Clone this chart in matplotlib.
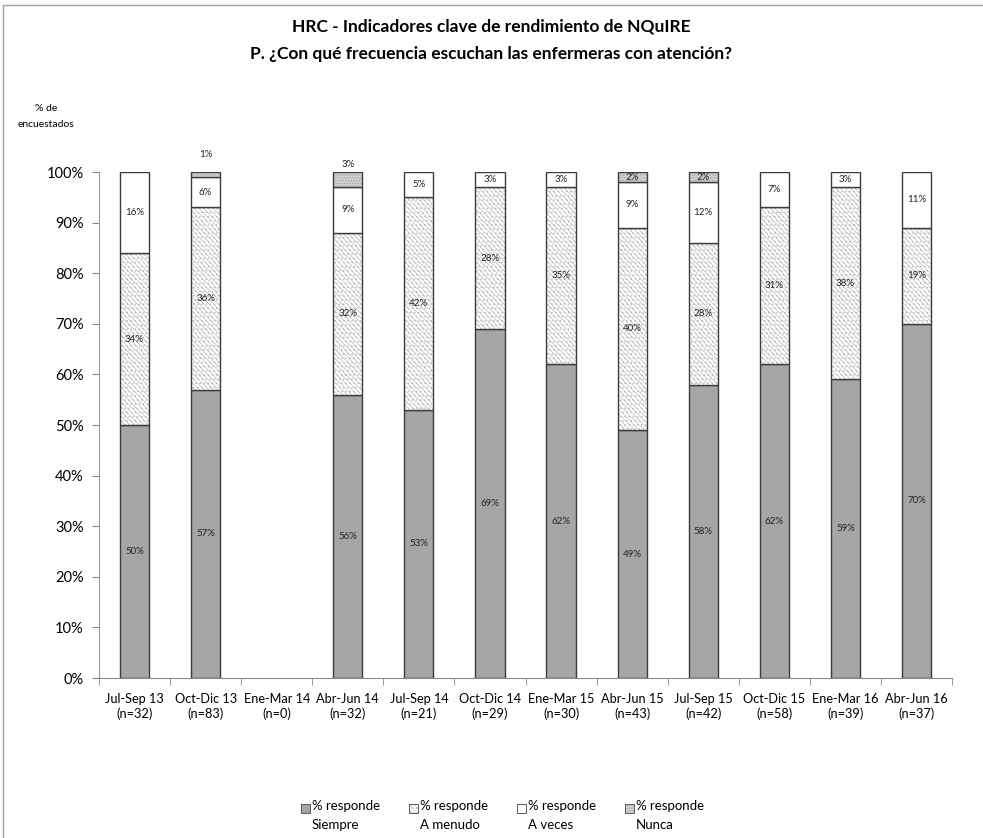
import numpy as np
import matplotlib.pyplot as plt
from matplotlib.patches import Rectangle

plt.rcParams['font.family'] = ['Lato', 'DejaVu Sans']
plt.rcParams['hatch.linewidth'] = 0.5

periodos = ["Jul-Sep 13", "Oct-Dic 13", "Ene-Mar 14", "Abr-Jun 14", "Jul-Sep 14",
            "Oct-Dic 14", "Ene-Mar 15", "Abr-Jun 15", "Jul-Sep 15", "Oct-Dic 15",
            "Ene-Mar 16", "Abr-Jun 16"]
n_resp = [32, 83, 0, 32, 21, 29, 30, 43, 42, 58, 39, 37]

siempre = [50, 57, 0, 56, 53, 69, 62, 49, 58, 62, 59, 70]
a_menudo = [34, 36, 0, 32, 42, 28, 35, 40, 28, 31, 38, 19]
a_veces = [16, 6, 0, 9, 5, 3, 3, 9, 12, 7, 3, 11]
nunca = [0, 1, 0, 3, 0, 0, 0, 2, 2, 0, 0, 0]

series = [
    ("% responde\nSiempre", siempre),
    ("% responde\nA menudo", a_menudo),
    ("% responde\nA veces", a_veces),
    ("% responde\nNunca", nunca),
]
# relleno, color de trama, trama
estilos = [
    ("#a6a6a6", None, None),
    ("white", "#bcbcbc", "\\\\\\\\\\\\\\...."),
    ("white", None, None),
    ("#d0d0d0", "#a0a0a0", "......"),
]

fig = plt.figure(figsize=(9.83, 8.38), dpi=100)
ax = fig.add_axes([0.1007, 0.1909, 0.8678, 0.6038])

x = np.arange(len(periodos))
w = 0.41
base = np.zeros(len(periodos))
for (nombre, vals), (fc, hc, hatch) in zip(series, estilos):
    v = np.array(vals) / 100.0
    mask = v > 0
    if hatch:
        ax.bar(x[mask], v[mask], w, bottom=base[mask], color=fc, edgecolor=hc,
               hatch=hatch, linewidth=0)
    ax.bar(x[mask], v[mask], w, bottom=base[mask], facecolor=fc if not hatch else "none",
           edgecolor="#3c3c3c", linewidth=1.0)
    for i in np.where(mask)[0]:
        y = base[i] + v[i] / 2
        if nombre.endswith("Nunca") and vals[i] != 2:
            y = base[i] + v[i] + 0.015 + (0.02 if vals[i] == 1 else 0)
        ax.text(x[i], y, f"{vals[i]}%", ha="center", va="center", fontsize=7, color="#222222")
    base = base + v

ax.set_xlim(-0.5, len(periodos) - 0.5)
ax.set_ylim(0, 1)
ax.set_yticks(np.arange(0, 1.01, 0.1))
ax.set_yticklabels([f"{int(round(t * 100))}%" for t in np.arange(0, 1.01, 0.1)], fontsize=10.5)
ax.set_xticks(x)
ax.set_xticklabels([f"{p}\n(n={n})" for p, n in zip(periodos, n_resp)], fontsize=9.2,
                   linespacing=1.2)
ax.set_xticks(np.arange(-0.5, len(periodos)), minor=True)
ax.tick_params(axis="x", which="major", length=0, pad=11)
ax.tick_params(axis="x", which="minor", length=5, color="#888888")
ax.tick_params(axis="y", length=5, color="#888888", pad=6)
for s in ["top", "right"]:
    ax.spines[s].set_visible(False)
ax.spines["left"].set_color("#9a9a9a")
ax.spines["bottom"].set_color("#888888")

fig.text(0.5, 0.968, "HRC - Indicadores clave de rendimiento de NQuIRE", ha="center",
         va="center", fontsize=12.5, fontweight="bold")
fig.text(0.5, 0.935, "P. ¿Con qué frecuencia escuchan las enfermeras con atención?",
         ha="center", va="center", fontsize=12.5, fontweight="bold")
fig.text(0.047, 0.861, "% de\nencuestados", ha="center", va="center", fontsize=7.5,
         linespacing=1.9)

# leyenda hecha a mano: cuadrito alineado con la primera linea del texto
x0, paso, y_txt = 301, 108, 808
for k, ((nombre, _), (fc, hc, hatch)) in enumerate(zip(series, estilos)):
    px = x0 + k * paso
    caja = (px / 983, 1 - (y_txt + 5) / 838)
    if hatch:
        fig.add_artist(Rectangle(caja, 9 / 983, 9 / 838, transform=fig.transFigure,
                                 facecolor=fc, edgecolor=hc, hatch=hatch, linewidth=0))
    fig.add_artist(Rectangle(caja, 9 / 983, 9 / 838, transform=fig.transFigure,
                             facecolor=fc if not hatch else "none",
                             edgecolor="#5a5a5a", linewidth=0.7))
    fig.text((px + 11) / 983, 1 - (y_txt - 8) / 838, nombre, ha="left", va="top",
             fontsize=9.5, linespacing=1.65)

fig.add_artist(Rectangle((0.003, -0.01), 1.2, 1.004, transform=fig.transFigure,
                         fill=False, edgecolor="#a0a0a0", linewidth=1.0))

fig.savefig("out.png", dpi=100)
